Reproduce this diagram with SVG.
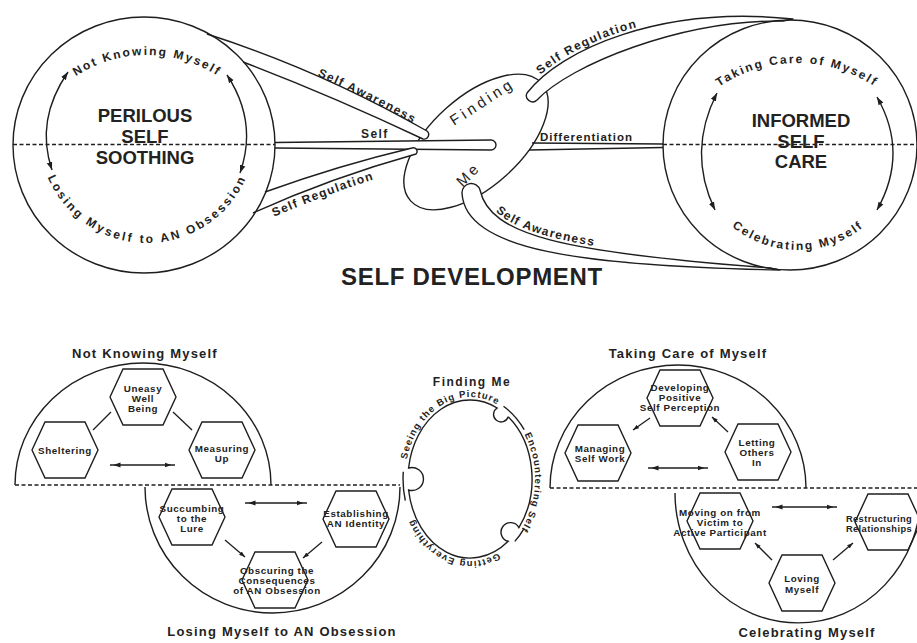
<svg xmlns="http://www.w3.org/2000/svg" width="917" height="643" viewBox="0 0 917 643">
<defs>
<style>
.ln{fill:none;stroke:#1e1e1e;stroke-width:1.4}
.tube{fill:#fff;stroke:#1e1e1e;stroke-width:1.4;stroke-linejoin:round}
.dash{fill:none;stroke:#1e1e1e;stroke-width:1.6;stroke-dasharray:4 2.5}
.hex{fill:none;stroke:#1e1e1e;stroke-width:1.4}
.arr{fill:none;stroke:#1e1e1e;stroke-width:1.3}
.t{font-family:"Liberation Sans",Arial,sans-serif;font-weight:bold;fill:#222}
.big{font-size:18.5px;text-anchor:middle}
.lbl{font-size:12px;letter-spacing:1.4px}
.arc{font-size:12px;letter-spacing:2px;text-anchor:middle}
.hx{font-size:9.8px;letter-spacing:0.6px;text-anchor:middle}
.sub{font-size:13px;letter-spacing:1.2px;text-anchor:middle}
.fm{font-size:9.5px;letter-spacing:1.1px;text-anchor:middle}
.fme{font-family:"Liberation Sans",Arial,sans-serif;font-size:15px;fill:#222;text-anchor:middle}
</style>
<marker id="ah" viewBox="0 0 10 10" refX="10" refY="5" markerWidth="8" markerHeight="8" markerUnits="userSpaceOnUse" orient="auto-start-reverse"><path d="M0,1.5 L10,5 L0,8.5 z" fill="#1e1e1e"/></marker>
<marker id="ahs" viewBox="0 0 10 10" refX="10" refY="5" markerWidth="6" markerHeight="6" markerUnits="userSpaceOnUse" orient="auto-start-reverse"><path d="M0,1.5 L10,5 L0,8.5 z" fill="#1e1e1e"/></marker>
<marker id="ahi" viewBox="0 0 10 10" refX="15" refY="5" markerWidth="7" markerHeight="7" markerUnits="userSpaceOnUse" orient="auto-start-reverse"><path d="M0,1.5 L10,5 L0,8.5 z" fill="#1e1e1e"/></marker>
<path id="tl-top" d="M34.4,120 A130,130 0 0 1 259.6,120"/>
<path id="tl-bot" d="M39,135 A108,108 0 0 0 255,135"/>
<path id="tr-top" d="M676.6,132.5 A139,139 0 0 1 917.4,132.5"/>
<path id="tr-bot" d="M693,145 A105,105 0 0 0 903,145"/>
<path id="p-sal" d="M207,34 Q320,70 427,131"/>
<path id="p-srl" d="M253,213 Q330,178 416,154"/>
<path id="p-srr" d="M527,93 C560,50 660,5 793,19"/>
<path id="p-sar" d="M480,190 C490,235 560,252 770,268"/>
<path id="fm1" d="M406,464.8 A65,82 0 0 1 502.5,408"/>
<path id="fm2" d="M518.3,424.1 A65,82 0 0 1 513.5,539.9"/>
<path id="fm3" d="M502.5,550 A65,82 0 0 1 411.1,513.7"/>
</defs>
<rect width="917" height="643" fill="#fff"/>

<g id="finding-me-top">
<ellipse cx="476" cy="142" rx="88" ry="45" transform="rotate(-42 476 142)" fill="#fff" stroke="#1e1e1e" stroke-width="1.4"/>
<text class="fme" letter-spacing="3.5" transform="translate(485 106) rotate(-33)">Finding</text>
<text class="fme" letter-spacing="3" transform="translate(472 178) rotate(-45)">Me</text>
</g>

<g id="connectors">
<path class="tube" d="M275,142.5 L491,140 A5,5 0 0 1 491,150 L275,148"/>
<path class="tube" d="M207,34 Q320,70 427,131 A4.6,4.6 0 0 1 423,139 Q330,95 243,62"/>
<path class="tube" d="M265,192 Q340,165 412,148 A3.7,3.7 0 0 1 416,154 Q330,178 253,213"/>
<path class="tube" d="M527,93 C560,50 660,5 793,19 L783,21 C680,20 570,65 537,100 A6.2,6.2 0 0 1 527,93"/>
<path class="tube" d="M462,193 C465,250 580,266 780,270 L770,268 C560,252 490,235 480,190 A9.2,9.2 0 0 0 462,193"/>
<path class="ln" d="M532,143 L663,144 M529,150 L663,147.5"/>
<text class="t lbl"><textPath href="#p-sal" startOffset="118" dy="-3">Self Awareness</textPath></text>
<text class="t lbl" x="361" y="138">Self</text>
<text class="t lbl"><textPath href="#p-srl" startOffset="18"><tspan dy="12">Self Regulation</tspan></textPath></text>
<text class="t lbl"><textPath href="#p-srr" startOffset="22"><tspan dy="-3">Self Regulation</tspan></textPath></text>
<text class="t lbl" style="font-size:11.5px;letter-spacing:1px" x="540" y="141">Differentiation</text>
<text class="t lbl"><textPath href="#p-sar" startOffset="28"><tspan dy="-3">Self Awareness</tspan></textPath></text>

<line class="arr" x1="93" y1="430" x2="111" y2="412"/>
<line class="arr" x1="173" y1="412" x2="192" y2="430"/>
<line class="arr" x1="110" y1="465" x2="175" y2="465" marker-start="url(#ahi)" marker-end="url(#ahi)"/>
<line class="arr" x1="245" y1="503" x2="307" y2="503" marker-start="url(#ahi)" marker-end="url(#ahi)"/>
<line class="arr" x1="225" y1="540" x2="245" y2="557" marker-end="url(#ahs)"/>
<line class="arr" x1="322" y1="542" x2="303" y2="558" marker-end="url(#ahs)"/>
<line class="arr" x1="650" y1="418" x2="633" y2="430" marker-end="url(#ahs)"/>
<line class="arr" x1="728" y1="432" x2="712" y2="417" marker-end="url(#ahs)"/>
<line class="arr" x1="648" y1="468" x2="708" y2="468" marker-start="url(#ahi)" marker-end="url(#ahi)"/>
<line class="arr" x1="772" y1="507" x2="837" y2="507" marker-start="url(#ahi)" marker-end="url(#ahi)"/>
<line class="arr" x1="772" y1="560" x2="755" y2="543" marker-end="url(#ahs)"/>
<line class="arr" x1="833" y1="560" x2="853" y2="543" marker-end="url(#ahs)"/>
</g>

<g id="perilous-self-soothing">
<ellipse class="ln" cx="144" cy="145" rx="131" ry="128"/>
<line class="dash" x1="13" y1="144.5" x2="275" y2="144.5"/>
<path class="ln" d="M68,72 Q35,120 52,170" marker-start="url(#ah)" marker-end="url(#ah)"/>
<path class="ln" d="M227,75 Q258,122 240,173" marker-start="url(#ah)" marker-end="url(#ah)"/>
<text class="t big" x="145" y="122">PERILOUS</text>
<text class="t big" x="145" y="143">SELF</text>
<text class="t big" x="145" y="164">SOOTHING</text>
<text class="t arc"><textPath href="#tl-top" startOffset="50%">Not Knowing Myself</textPath></text>
<text class="t arc" style="letter-spacing:2.5px"><textPath href="#tl-bot" startOffset="50%">Losing Myself to AN Obsession</textPath></text>
</g>

<g id="informed-self-care">
<ellipse class="ln" cx="790" cy="145" rx="127" ry="125"/>
<line class="dash" x1="663" y1="144.5" x2="917" y2="144.5"/>
<path class="ln" d="M717,93 Q687,152 715,210" marker-start="url(#ah)" marker-end="url(#ah)"/>
<path class="ln" d="M877,97 Q909,153 877,210" marker-start="url(#ah)" marker-end="url(#ah)"/>
<text class="t big" x="801" y="127">INFORMED</text>
<text class="t big" x="801" y="148">SELF</text>
<text class="t big" x="801" y="168">CARE</text>
<text class="t arc"><textPath href="#tr-top" startOffset="50%">Taking Care of Myself</textPath></text>
<text class="t arc"><textPath href="#tr-bot" startOffset="50%">Celebrating Myself</textPath></text>
</g>

<g id="title">
<text class="t" x="472" y="285" style="font-size:24px;letter-spacing:0.7px;text-anchor:middle">SELF DEVELOPMENT</text>
</g>

<g id="not-knowing-myself">
<path class="ln" d="M15,485 A128,122 0 0 1 271,485"/>
<line class="dash" x1="15" y1="485" x2="400" y2="485"/>
<text class="t sub" x="145" y="358">Not Knowing Myself</text>
</g>
<g id="losing-myself">
<path class="ln" d="M145,487 A127.5,126 0 0 0 400,487"/>
<text class="t sub" x="282" y="636">Losing Myself to AN Obsession</text>
</g>
<g id="hex-uneasy"><polygon class="hex" points="110,397 123,369 163,369 176,397 163,425 123,425"/>
<text class="t hx" x="143" y="391.5">Uneasy</text><text class="t hx" x="143" y="401.5">Well</text><text class="t hx" x="143" y="411.5">Being</text></g>
<g id="hex-sheltering"><polygon class="hex" points="32,450 45,422 85,422 98,450 85,478 45,478"/>
<text class="t hx" x="65" y="453.5">Sheltering</text></g>
<g id="hex-measuring"><polygon class="hex" points="189,450 202,422 242,422 255,450 242,478 202,478"/>
<text class="t hx" x="222" y="451.5">Measuring</text><text class="t hx" x="222" y="462">Up</text></g>
<g id="hex-succumbing"><polygon class="hex" points="159,517 172,489 212,489 225,517 212,545 172,545"/>
<text class="t hx" x="192" y="511.5">Succumbing</text><text class="t hx" x="192" y="521.5">to the</text><text class="t hx" x="192" y="531.5">Lure</text></g>
<g id="hex-establishing"><polygon class="hex" points="323,519 336,491 376,491 389,519 376,547 336,547"/>
<text class="t hx" x="356" y="516.5">Establishing</text><text class="t hx" x="356" y="526.5">AN Identity</text></g>
<g id="hex-obscuring"><polygon class="hex" points="242,580 255,552 295,552 308,580 295,608 255,608"/>
<text class="t hx" x="277" y="573.5">Obscuring the</text><text class="t hx" x="277" y="583.5">Consequences</text><text class="t hx" x="277" y="593.5">of AN Obsession</text></g>

<g id="finding-me-bottom">
<path class="ln" d="M508.2,416.7 A62,79 0 0 1 518.9,527.6 A9.5,9.5 0 1 0 508.2,541.3 A62,79 0 0 1 408.6,490 A11.5,11.5 0 1 0 408.6,468 A62,79 0 0 1 497.2,408 A7.5,7.5 0 1 0 508.2,416.7"/>
<path class="ln" d="M503.5,406.3 A67,84 0 0 1 524.2,429.6 M524.2,528.4 A67,84 0 0 1 514.8,541.4 M405.3,500.7 A67,84 0 0 1 403.3,471.7"/>
<text class="t" x="472" y="386" style="font-size:12px;letter-spacing:1.5px;text-anchor:middle">Finding Me</text>
<text class="t fm"><textPath href="#fm1" startOffset="50%">Seeing the Big Picture</textPath></text>
<text class="t fm"><textPath href="#fm2" startOffset="50%">Encountering Self</textPath></text>
<text class="t fm"><textPath href="#fm3" startOffset="50%">Getting Everything</textPath></text>
</g>

<g id="taking-care-of-myself">
<path class="ln" d="M550,488 A128,123 0 0 1 806,488"/>
<line class="dash" x1="550" y1="488" x2="917" y2="488"/>
<text class="t sub" x="688" y="358">Taking Care of Myself</text>
</g>
<g id="celebrating-myself">
<path class="ln" d="M675,493 A123,130 0 0 0 921,493"/>
<text class="t sub" x="807" y="637">Celebrating Myself</text>
</g>
<g id="hex-developing"><polygon class="hex" points="647,398 660,370 700,370 713,398 700,426 660,426"/>
<text class="t hx" x="680" y="390.5">Developing</text><text class="t hx" x="680" y="400.5">Positive</text><text class="t hx" x="680" y="411">Self Perception</text></g>
<g id="hex-managing"><polygon class="hex" points="565,453 578,425 618,425 631,453 618,481 578,481"/>
<text class="t hx" x="600" y="451.5">Managing</text><text class="t hx" x="600" y="461.5">Self Work</text></g>
<g id="hex-letting"><polygon class="hex" points="725,452 738,424 778,424 791,452 778,480 738,480"/>
<text class="t hx" x="757" y="445.5">Letting</text><text class="t hx" x="757" y="455.5">Others</text><text class="t hx" x="757" y="465.5">In</text></g>
<g id="hex-moving"><polygon class="hex" points="687,521 700,493 740,493 753,521 740,549 700,549"/>
<text class="t hx" x="720" y="515.5">Moving on from</text><text class="t hx" x="720" y="525.5">Victim to</text><text class="t hx" x="720" y="535.5">Active Participant</text></g>
<g id="hex-restructuring"><polygon class="hex" points="855,522 868,494 908,494 921,522 908,550 868,550"/>
<text class="t hx" x="879" y="521.5" style="font-size:9.3px;letter-spacing:0.4px">Restructuring</text><text class="t hx" x="879" y="531.5" style="font-size:9.3px;letter-spacing:0.4px">Relationships</text></g>
<g id="hex-loving"><polygon class="hex" points="769,583 782,555 822,555 835,583 822,611 782,611"/>
<text class="t hx" x="802" y="581.5">Loving</text><text class="t hx" x="802" y="593">Myself</text></g>
</svg>
